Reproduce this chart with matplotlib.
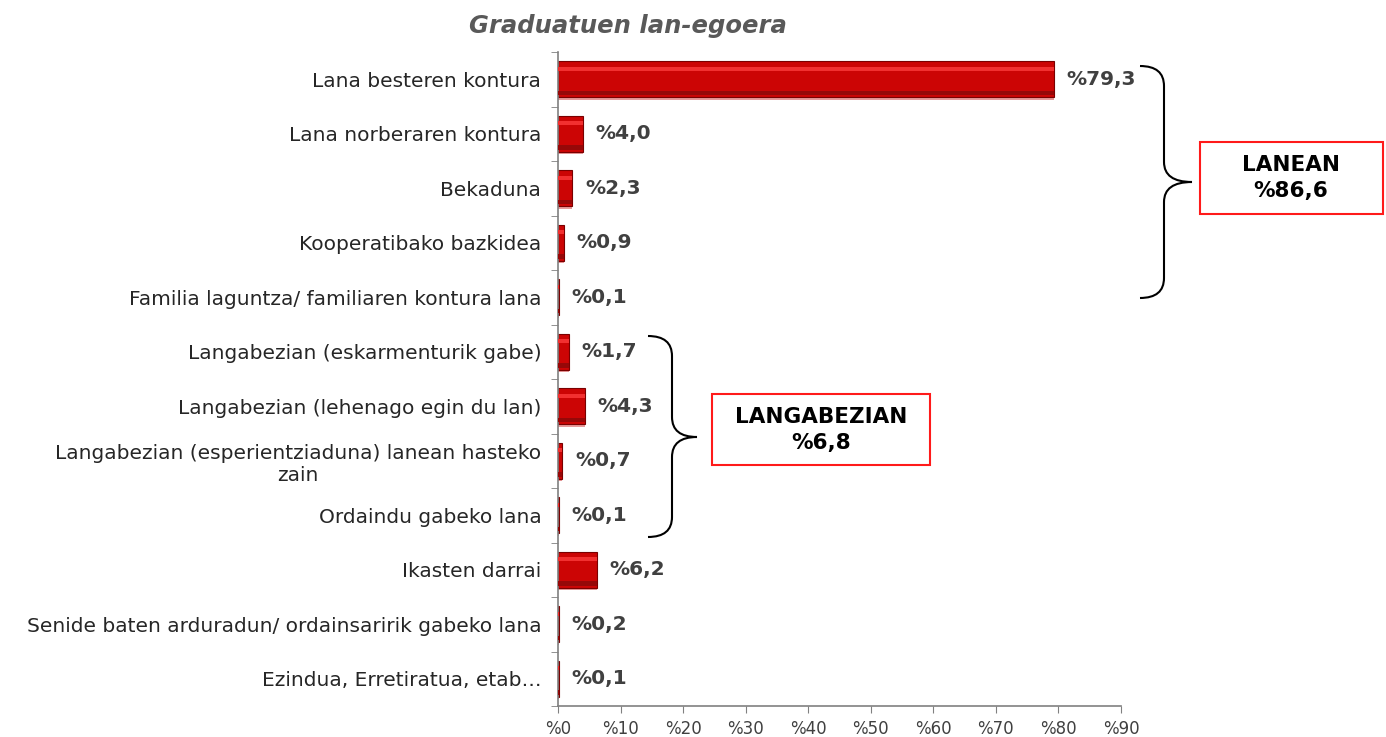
import numpy as np
import matplotlib.pyplot as plt
from matplotlib.path import Path
from matplotlib.patches import PathPatch

categories = [
    "Lana besteren kontura",
    "Lana norberaren kontura",
    "Bekaduna",
    "Kooperatibako bazkidea",
    "Familia laguntza/ familiaren kontura lana",
    "Langabezian (eskarmenturik gabe)",
    "Langabezian (lehenago egin du lan)",
    "Langabezian (esperientziaduna) lanean hasteko\nzain",
    "Ordaindu gabeko lana",
    "Ikasten darrai",
    "Senide baten arduradun/ ordainsaririk gabeko lana",
    "Ezindua, Erretiratua, etab\u2026",
]
values = [79.3, 4.0, 2.3, 0.9, 0.1, 1.7, 4.3, 0.7, 0.1, 6.2, 0.2, 0.1]
xticks = list(range(0, 100, 10))
group_labels = ["LANEAN\n%86,6", "LANGABEZIAN\n%6,8"]

W, H = 1386, 737
fig = plt.figure(figsize=(W / 100, H / 100), dpi=100)
ax = fig.add_axes([558 / W, 1 - 706 / H, (1121 - 558) / W, (706 - 52) / H])

y = np.arange(len(categories))
# shadow, body, highlight, dark bottom band
ax.barh(y + 0.06, values, height=0.64, color="#e79a9a", zorder=1)
ax.barh(y, values, height=0.66, color="#cc0505", edgecolor="#7a0000", linewidth=0.8, zorder=2)
ax.barh(y - 0.19, values, height=0.07, color="#f23030", linewidth=0, zorder=3)
ax.barh(y + 0.25, values, height=0.08, color="#960808", linewidth=0, zorder=3)

for yi, v in zip(y, values):
    ax.annotate("%" + f"{v:.1f}".replace(".", ","), (v, yi), xytext=(9, 0),
                textcoords="offset points", va="center", ha="left",
                fontsize=14.5, fontweight="bold", color="#404040")

ax.set_xlim(0, 90)
ax.set_ylim(len(categories) - 0.5, -0.5)
ax.set_xticks(xticks)
ax.set_xticklabels(["%" + str(t) for t in xticks], fontsize=12, color="#404040")
ax.set_yticks(y)
ax.set_yticklabels(categories, fontsize=14.5, color="#262626", multialignment="center")
ax.set_yticks(np.arange(len(categories) + 1) - 0.5, minor=True)
ax.tick_params(axis="y", which="major", length=0, pad=12)
ax.tick_params(axis="y", which="minor", length=5, color="#808080", direction="out")
ax.tick_params(axis="x", length=5, color="#808080", direction="out", pad=5)
for s in ["top", "right"]:
    ax.spines[s].set_visible(False)
for s in ["left", "bottom"]:
    ax.spines[s].set_color("#808080")
    ax.spines[s].set_linewidth(1.2)

fig.text(628 / W, 1 - 26 / H, "Graduatuen lan-egoera", ha="center", va="center",
         fontsize=17.5, fontweight="bold", fontstyle="italic", color="#595959")


def brace(x0, xv, xt, yt, ym, yb, r=20):
    pts = [(x0, yt), (xv, yt), (xv, yt + r),
           (xv, ym - r), (xv, ym), (xt, ym),
           (xv, ym), (xv, ym + r),
           (xv, yb - r), (xv, yb), (x0, yb)]
    codes = [Path.MOVETO, Path.CURVE3, Path.CURVE3,
             Path.LINETO, Path.CURVE3, Path.CURVE3,
             Path.CURVE3, Path.CURVE3,
             Path.LINETO, Path.CURVE3, Path.CURVE3]
    pts = [(px / W, 1 - py / H) for px, py in pts]
    fig.patches.append(PathPatch(Path(pts, codes), transform=fig.transFigure,
                                 fill=False, edgecolor="black", linewidth=1.5))


brace(1140, 1164, 1192, 66, 182, 298)
brace(648, 672, 697, 336, 437, 537)

for label, (cx, cy, bw, bh) in zip(group_labels, [(1291, 178, 183, 72), (821, 430, 218, 71)]):
    fig.text(cx / W, 1 - cy / H, label, ha="center", va="center", fontsize=15.5,
             fontweight="bold", color="black", linespacing=1.35)
    fig.patches.append(plt.Rectangle(((cx - bw / 2) / W, 1 - (cy + bh / 2) / H), bw / W, bh / H,
                                     transform=fig.transFigure, fill=False,
                                     edgecolor="#ff1a1a", linewidth=1.5))

fig.savefig("out.png", dpi=100)
